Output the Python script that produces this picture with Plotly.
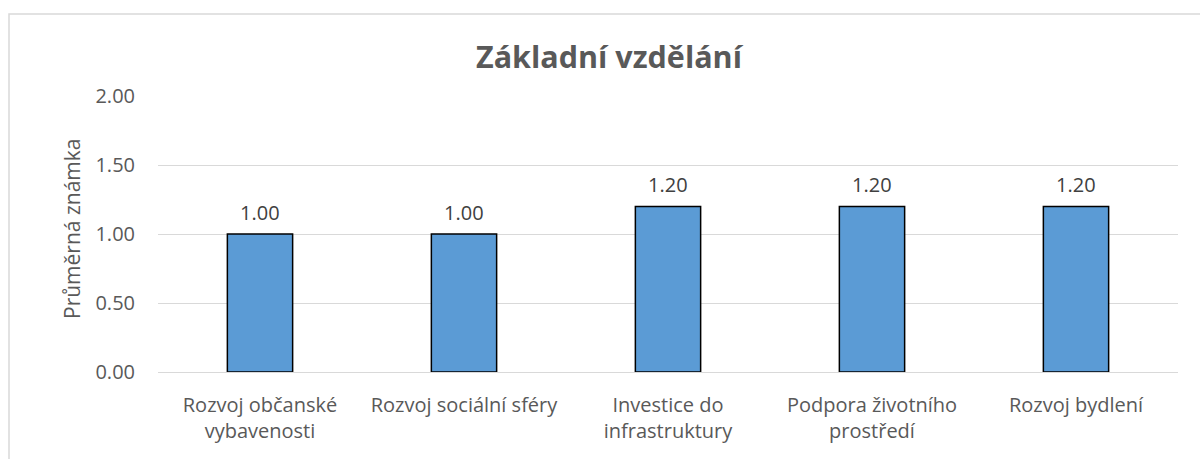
import plotly.graph_objects as go

categories = ["Rozvoj občanské<br>vybavenosti", "Rozvoj sociální sféry", "Investice do<br>infrastruktury",
              "Podpora životního<br>prostředí", "Rozvoj bydlení"]
values = [1.00, 1.00, 1.20, 1.20, 1.20]
y_ticks = [0, 0.5, 1.0, 1.5, 2.0]
title_text = "Základní vzdělání"
y_title = "Průměrná známka"

FONT = "'Open Sans', sans-serif"
GREY = "#595959"

fig = go.Figure(go.Bar(
    x=categories, y=values,
    marker=dict(color="#5B9BD5", line=dict(color="black", width=1.5)),
    width=0.32,
))

annotations = [dict(x=c, y=v, xref="x", yref="y", text=f"{v:.2f}", showarrow=False,
                    yanchor="middle", yshift=22,
                    font=dict(size=20, color="#404040", family=FONT))
               for c, v in zip(categories, values)]
annotations.append(dict(x=(72 - 158) / 1020, y=(372 - 229) / 276, xref="paper", yref="paper",
                        text=y_title, textangle=-90, showarrow=False,
                        xanchor="center", yanchor="middle",
                        font=dict(size=21, color=GREY, family=FONT)))

fig.update_layout(
    width=1200, height=459,
    margin=dict(l=158, r=22, t=96, b=87, autoexpand=False),
    paper_bgcolor="white", plot_bgcolor="white",
    title=dict(text=f"<b>{title_text}</b>", x=(475 + 743) / 2 / 1200, xanchor="center",
               y=1 - 57 / 459, yanchor="middle",
               font=dict(size=30.5, color=GREY, family=FONT)),
    font=dict(family=FONT, color=GREY, size=20),
    showlegend=False,
    bargap=0.68,
    annotations=annotations,
    shapes=[dict(type="rect", xref="paper", yref="paper",
                 x0=(9 - 158) / 1020, x1=1.1, y0=-0.4, y1=(372 - 14) / 276,
                 line=dict(color="#d9d9d9", width=1.5), layer="below")],
)
fig.update_yaxes(range=[0, 2], tickvals=y_ticks, tickformat=".2f",
                 showgrid=True, gridcolor="#d9d9d9", gridwidth=1.2,
                 zeroline=True, zerolinecolor="#d9d9d9", zerolinewidth=1.2,
                 showline=False, ticks="", ticklabelstandoff=22, automargin=False,
                 tickfont=dict(size=20, color=GREY, family=FONT))
fig.update_xaxes(showline=False, ticks="", showgrid=False, automargin=False,
                 tickfont=dict(size=20, color=GREY, family=FONT), ticklabelstandoff=19)

fig.write_html("out.html", config={"displayModeBar": False},
               post_script="document.body.style.margin='0px';")
